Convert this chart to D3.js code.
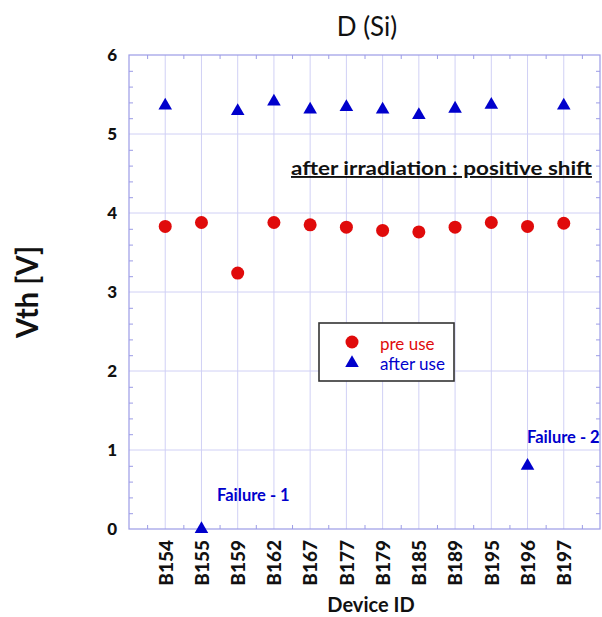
<!DOCTYPE html>
<html>
<head>
<meta charset="utf-8">
<script src="https://cdn.jsdelivr.net/npm/d3@7"></script>
<style>
  body { margin: 0; background: #fff; }
  text { font-family: Lato, "Open Sans", sans-serif; }
</style>
</head>
<body>
<script>
// device IDs along the x axis
const devices = ["B154", "B155", "B159", "B162", "B167", "B177", "B179", "B185", "B189", "B195", "B196", "B197"];
// threshold voltage before use (red circles)
const preUse = [3.83, 3.88, 3.24, 3.88, 3.85, 3.82, 3.78, 3.76, 3.82, 3.88, 3.83, 3.87];
// threshold voltage after use (blue triangles)
const afterUse = [5.36, 0.00, 5.29, 5.41, 5.31, 5.34, 5.31, 5.24, 5.32, 5.37, 0.80, 5.36];
const yTicks = [0, 1, 2, 3, 4, 5, 6];

const w = 602, h = 617;
const plotLeft = 129, plotRight = 600, plotTop = 55, plotBottom = 529;
const red = "#e00b0b", blue = "#0000cc";
const gridColor = "#d0d0f5", axisColor = "#9c9ce6";

const svg = d3.select("body").append("svg")
  .attr("width", w)
  .attr("height", h);

const xScale = d3.scaleLinear().domain([0, devices.length + 1]).range([plotLeft, plotRight]);
const yScale = d3.scaleLinear().domain([0, 6]).range([plotBottom, plotTop]);

// grid lines
svg.append("g").selectAll("line")
  .data(d3.range(1, devices.length + 1))
  .enter().append("line")
  .attr("x1", d => xScale(d)).attr("x2", d => xScale(d))
  .attr("y1", plotTop).attr("y2", plotBottom)
  .attr("stroke", gridColor).attr("stroke-width", 1);

svg.append("g").selectAll("line")
  .data([1, 2, 3, 4, 5])
  .enter().append("line")
  .attr("x1", plotLeft).attr("x2", plotRight)
  .attr("y1", d => yScale(d)).attr("y2", d => yScale(d))
  .attr("stroke", gridColor).attr("stroke-width", 1);

// minor ticks, pointing inside, on all four sides
const yMinor = d3.range(0, 30).map(i => i / 5).filter(v => v % 1 !== 0);
const xMinor = d3.range(0, devices.length + 1).map(i => i + 0.5);

svg.append("g")
  .attr("transform", "translate(" + plotLeft + ",0)")
  .call(d3.axisRight(yScale).tickValues(yMinor).tickSize(4).tickFormat(""))
  .call(g => g.select(".domain").remove())
  .selectAll("line").attr("stroke", axisColor);
svg.append("g")
  .attr("transform", "translate(" + plotRight + ",0)")
  .call(d3.axisLeft(yScale).tickValues(yMinor).tickSize(4).tickFormat(""))
  .call(g => g.select(".domain").remove())
  .selectAll("line").attr("stroke", axisColor);
svg.append("g")
  .attr("transform", "translate(0," + plotTop + ")")
  .call(d3.axisBottom(xScale).tickValues(xMinor).tickSize(4).tickFormat(""))
  .call(g => g.select(".domain").remove())
  .selectAll("line").attr("stroke", axisColor);
svg.append("g")
  .attr("transform", "translate(0," + plotBottom + ")")
  .call(d3.axisTop(xScale).tickValues(xMinor).tickSize(4).tickFormat(""))
  .call(g => g.select(".domain").remove())
  .selectAll("line").attr("stroke", axisColor);

// frame
svg.append("rect")
  .attr("x", plotLeft).attr("y", plotTop)
  .attr("width", plotRight - plotLeft).attr("height", plotBottom - plotTop)
  .attr("fill", "none").attr("stroke", axisColor).attr("stroke-width", 1.2);

// y tick labels
const yAxis = svg.append("g")
  .attr("transform", "translate(" + plotLeft + ",0)")
  .call(d3.axisLeft(yScale).tickValues(yTicks).tickSize(0).tickPadding(12).tickFormat(d3.format("d")));
yAxis.select(".domain").remove();
yAxis.selectAll("text")
  .style("font-family", "Lato, sans-serif")
  .style("font-size", "17px").style("font-weight", "900").attr("fill", "#111");

// x tick labels, rotated
const xAxis = svg.append("g")
  .attr("transform", "translate(0," + plotBottom + ")")
  .call(d3.axisBottom(xScale).tickValues(d3.range(1, devices.length + 1)).tickSize(0)
    .tickFormat(d => devices[d - 1]));
xAxis.select(".domain").remove();
xAxis.selectAll("text")
  .attr("transform", "rotate(-90)")
  .attr("x", -11).attr("y", 0).attr("dy", "0.36em")
  .style("text-anchor", "end")
  .style("font-family", "Lato, sans-serif")
  .style("font-size", "19px").style("font-weight", "900").attr("fill", "#111");

// pre use points
svg.append("g").selectAll("circle")
  .data(preUse)
  .enter().append("circle")
  .attr("cx", (d, i) => xScale(i + 1))
  .attr("cy", d => yScale(d))
  .attr("r", 6.5)
  .attr("fill", red);

// after use points
const tri = d3.symbol().type(d3.symbolTriangle).size(80);
svg.append("g").selectAll("path")
  .data(afterUse)
  .enter().append("path")
  .attr("d", tri)
  .attr("transform", (d, i) => "translate(" + xScale(i + 1) + "," + yScale(d) + ")")
  .attr("fill", blue);

// titles
svg.append("text")
  .attr("x", 367).attr("y", 36)
  .attr("text-anchor", "middle")
  .style("font-size", "26px").attr("fill", "#111")
  .text("D (Si)");

svg.append("text")
  .attr("transform", "translate(38,292) rotate(-90)")
  .attr("text-anchor", "middle")
  .attr("textLength", 92).attr("lengthAdjust", "spacingAndGlyphs")
  .style("font-size", "31px").style("font-weight", "bold").attr("fill", "#111")
  .text("Vth [V]");

svg.append("text")
  .attr("x", 371).attr("y", 612)
  .attr("text-anchor", "middle")
  .style("font-size", "20px").style("font-weight", "bold").attr("fill", "#111")
  .text("Device ID");

// annotation
svg.append("text")
  .attr("x", 291).attr("y", 175)
  .attr("textLength", 301).attr("lengthAdjust", "spacingAndGlyphs")
  .style("font-size", "19px").style("font-weight", "bold").attr("fill", "#111")
  .style("text-decoration", "underline")
  .text("after irradiation : positive shift");

svg.append("text")
  .attr("x", 217).attr("y", 501)
  .style("font-size", "16.5px").style("font-weight", "bold").attr("fill", blue)
  .text("Failure - 1");
svg.append("text")
  .attr("x", 527).attr("y", 443)
  .style("font-size", "16.5px").style("font-weight", "bold").attr("fill", blue)
  .text("Failure - 2");

// legend
const legend = svg.append("g").attr("transform", "translate(319,323)");
legend.append("rect")
  .attr("width", 135).attr("height", 58)
  .attr("fill", "#fff").attr("stroke", "#333").attr("stroke-width", 1.6);
legend.append("circle")
  .attr("cx", 33).attr("cy", 19).attr("r", 6.5).attr("fill", red);
legend.append("path")
  .attr("d", tri)
  .attr("transform", "translate(33,40)")
  .attr("fill", blue);
legend.append("text")
  .attr("x", 61).attr("y", 27)
  .style("font-size", "17px").attr("fill", red)
  .text("pre use");
legend.append("text")
  .attr("x", 61).attr("y", 47)
  .style("font-size", "17px").attr("fill", blue)
  .text("after use");
</script>
</body>
</html>
